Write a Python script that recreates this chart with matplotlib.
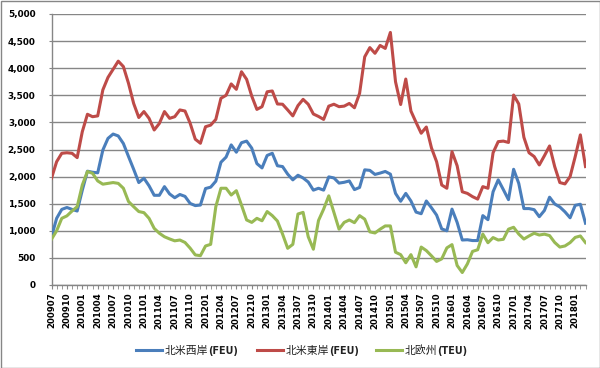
import matplotlib
matplotlib.use('Agg')
import matplotlib.pyplot as plt
from matplotlib.lines import Line2D
from matplotlib.patches import Rectangle
import pandas as pd

# ---------------- data ----------------
months = list(pd.period_range('2009-07', '2018-03', freq='M').strftime('%Y%m'))

west_feu = [890, 1230, 1395, 1430, 1395, 1365, 1750, 2100, 2080, 2070,
            2490, 2705, 2785, 2750, 2610, 2370, 2135, 1890, 1970, 1830,
            1655, 1655, 1815, 1680, 1610, 1670, 1635, 1505, 1465, 1475,
            1780, 1805, 1915, 2265, 2360, 2585, 2450, 2625, 2655, 2525,
            2240, 2160, 2390, 2430, 2200, 2185, 2045, 1940, 2025, 1975,
            1900, 1750, 1785, 1750, 1995, 1975, 1880, 1895, 1920, 1760,
            1800, 2125, 2115, 2040, 2065, 2095, 2045, 1690, 1545, 1690,
            1550, 1345, 1315, 1550, 1425, 1290, 1035, 1000, 1400, 1155,
            830, 835, 820, 820, 1280, 1205, 1720, 1940, 1760, 1575,
            2135, 1875, 1410, 1410, 1390, 1260, 1375, 1620, 1495, 1440,
            1350, 1240, 1470, 1490, 1140]

east_feu = [1970, 2275, 2430, 2440, 2430, 2350, 2830, 3150, 3105, 3120,
            3600, 3830, 3980, 4130, 4030, 3720, 3350, 3090, 3200, 3075,
            2860, 2980, 3200, 3075, 3105, 3230, 3210, 2985, 2690, 2615,
            2920, 2950, 3055, 3445, 3500, 3710, 3610, 3935, 3795, 3485,
            3240, 3290, 3565, 3580, 3340, 3335, 3230, 3120, 3310, 3425,
            3335, 3155, 3110, 3055, 3300, 3335, 3290, 3300, 3350, 3270,
            3535, 4210, 4380, 4275, 4420, 4365, 4660, 3750, 3330, 3800,
            3210, 3000, 2800, 2915, 2530, 2275, 1845, 1785, 2460, 2200,
            1720, 1690, 1630, 1585, 1815, 1785, 2440, 2645, 2655, 2630,
            3505, 3340, 2725, 2440, 2370, 2215, 2385, 2565, 2185, 1890,
            1865, 2000, 2370, 2770, 2185]

europe_teu = [845, 1000, 1230, 1275, 1365, 1445, 1845, 2095, 2060, 1920,
              1860, 1875, 1890, 1875, 1785, 1540, 1445, 1355, 1335, 1230,
              1045, 955, 890, 850, 815, 830, 785, 680, 555, 541,
              720, 750, 1445, 1785, 1785, 1660, 1740, 1475, 1200, 1155,
              1230, 1185, 1355, 1280, 1180, 940, 677, 750, 1310, 1340,
              890, 660, 1190, 1400, 1645, 1340, 1030, 1155, 1200, 1150,
              1280, 1215, 980, 960, 1030, 1090, 1090, 605, 560, 410,
              560, 335, 700, 635, 538, 435, 482, 685, 745, 360,
              230, 390, 620, 650, 940, 780, 875, 830, 843, 1030,
              1065, 940, 848, 905, 955, 922, 938, 912, 785, 700,
              720, 782, 878, 905, 782]

series_names = [('北米西岸', '(FEU)'), ('北米東岸', '(FEU)'), ('北欧州', '(TEU)')]
series_values = [west_feu, east_feu, europe_teu]
colors = ['#4a7ebb', '#be4b48', '#98b954']
y_ticks = list(range(0, 5001, 500))

# ---------------- figure ----------------
W, H = 600, 368
fig = plt.figure(figsize=(W / 100, H / 100), dpi=100)
fig.patch.set_facecolor('white')
ax = fig.add_axes([51.5 / W, 1 - 285 / H, (585.5 - 51.5) / W, (285 - 14) / H])

x = list(range(len(months)))
for vals, c in zip(series_values, colors):
    ax.plot(x, vals, color=c, lw=2.2, solid_joinstyle='round', zorder=3)

grid_c = '#868686'
ax.set_xlim(0, len(months) - 1)
ax.set_ylim(0, 5000)
ax.set_yticks(y_ticks)
ax.set_yticklabels([f'{v:,}' for v in y_ticks])
ax.yaxis.grid(True, color=grid_c, lw=1)
ax.set_axisbelow(True)

ax.set_xticks(x[::3])
ax.set_xticklabels(months[::3], rotation=90)
ax.set_xticks(x, minor=True)

for s in ['top', 'right']:
    ax.spines[s].set_visible(False)
for s in ['left', 'bottom']:
    ax.spines[s].set_color(grid_c)
    ax.spines[s].set_linewidth(1)

ax.tick_params(axis='y', length=2.5, color=grid_c, pad=9, labelsize=6.4)
ax.tick_params(axis='x', which='both', length=3, color=grid_c, pad=2.5, labelsize=6.2)
for lab in ax.get_xticklabels() + ax.get_yticklabels():
    lab.set_fontweight('bold')
    lab.set_family('DejaVu Sans')

# figure border
fig.patches.append(Rectangle((0.5 / W, 0.5 / H), 599 / W, 367 / H, transform=fig.transFigure,
                             fill=False, edgecolor=grid_c, lw=1))

# ---------------- legend (manual, mixed fonts) ----------------
leg_y = 1 - 350 / H
base_y = 1 - 354 / H
line_x = [(136, 162), (257, 283), (376, 402)]
fig.canvas.draw()
renderer = fig.canvas.get_renderer()
for (cjk, lat), c, (x0, x1) in zip(series_names, colors, line_x):
    fig.add_artist(Line2D([x0 / W, x1 / W], [leg_y, leg_y], color=c, lw=2.2,
                          transform=fig.transFigure))
    t1 = fig.text((x1 + 3) / W, base_y, cjk, family=['Noto Sans CJK JP', 'DejaVu Sans'],
                  fontsize=7.8, va='baseline', ha='left', color='#222222')
    bb = t1.get_window_extent(renderer=renderer)
    fig.text(bb.x1 / fig.bbox.width, base_y, lat, family='DejaVu Sans', fontweight='bold',
             fontsize=6.9, va='baseline', ha='left', color='#222222')

fig.savefig('out.png', dpi=100)
